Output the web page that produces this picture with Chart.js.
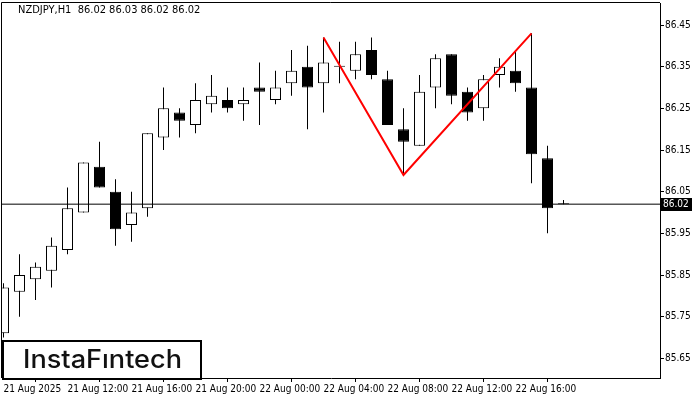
<!DOCTYPE html>
<html>
<head>
<meta charset="utf-8">
<script src="https://cdn.jsdelivr.net/npm/chart.js@4.4.1/dist/chart.umd.min.js"></script>
<style>
    html, body { margin: 0; padding: 0; background: #fff; }
    #wrap { width: 700px; height: 400px; }
</style>
</head>
<body>
<div id="wrap"><canvas id="myChart" width="700" height="400"></canvas></div>
<script>
const symbol = 'NZDJPY,H1';
const lastQuote = [ 86.02, 86.03, 86.02, 86.02 ];

// H1 candles, 21 Aug 08:00 .. 22 Aug 19:00
const opens  = [ 85.71, 85.81, 85.84, 85.86, 85.91, 86.00, 86.11, 86.05, 85.97, 86.01,
                 86.18, 86.24, 86.21, 86.26, 86.27, 86.26, 86.30, 86.27, 86.31, 86.35,
                 86.31, 86.35, 86.34, 86.39, 86.32, 86.20, 86.16, 86.30, 86.38, 86.29,
                 86.25, 86.33, 86.34, 86.30, 86.13, 86.02 ];
const highs  = [ 85.83, 85.90, 85.88, 85.94, 86.06, 86.12, 86.17, 86.08, 86.05, 86.19,
                 86.30, 86.25, 86.31, 86.33, 86.30, 86.30, 86.36, 86.34, 86.39, 86.40,
                 86.42, 86.41, 86.41, 86.42, 86.34, 86.25, 86.33, 86.38, 86.38, 86.30,
                 86.33, 86.37, 86.39, 86.43, 86.16, 86.03 ];
const lows   = [ 85.70, 85.75, 85.79, 85.82, 85.90, 86.00, 86.06, 85.92, 85.93, 85.99,
                 86.15, 86.18, 86.19, 86.24, 86.24, 86.22, 86.21, 86.26, 86.28, 86.20,
                 86.24, 86.31, 86.32, 86.32, 86.21, 86.09, 86.16, 86.25, 86.26, 86.22,
                 86.22, 86.30, 86.29, 86.07, 85.95, 86.02 ];
const closes = [ 85.82, 85.85, 85.87, 85.92, 86.01, 86.12, 86.06, 85.96, 86.00, 86.19,
                 86.25, 86.22, 86.27, 86.28, 86.25, 86.27, 86.29, 86.30, 86.34, 86.30,
                 86.36, 86.35, 86.38, 86.33, 86.21, 86.17, 86.29, 86.37, 86.28, 86.24,
                 86.32, 86.35, 86.31, 86.14, 86.01, 86.02 ];

const timeLabels = [ '21 Aug 2025', '21 Aug 12:00', '21 Aug 16:00', '21 Aug 20:00',
                     '22 Aug 00:00', '22 Aug 04:00', '22 Aug 08:00', '22 Aug 12:00', '22 Aug 16:00' ];
const barsPerLabel = 4;
const priceTicks = [ 85.65, 85.75, 85.85, 85.95, 86.05, 86.15, 86.25, 86.35, 86.45 ];

// double top pattern
const patternBars   = [ 20, 25, 33 ];
const patternPrices = [ 86.42, 86.09, 86.43 ];

const currentPrice = 86.02;

const tickFont = { family: "'DejaVu Sans Condensed', 'DejaVu Sans', sans-serif", size: 10 };


const chartDecor = {
    id: 'chartDecor',
    afterDatasetsDraw( chart ) {
        const { ctx, chartArea: a } = chart;
        ctx.save();

        // logo box
        ctx.fillStyle = '#fff';
        ctx.fillRect( 3, 341, 198, 37 );
        ctx.strokeStyle = '#000';
        ctx.lineWidth = 2;
        ctx.strokeRect( 3, 341, 198, 38 );

        ctx.font = "500 25px Inter, 'Open Sans', sans-serif";
        ctx.fillStyle = '#111';
        ctx.textBaseline = 'alphabetic';
        const logo = 'InstaF\u0131ntech';
        const w = ctx.measureText( logo ).width;
        ctx.translate( 23, 368 );
        ctx.scale( 159 / w, 1 );
        ctx.fillText( logo, 0, 0 );
        ctx.restore();

        ctx.save();
        // frame (top / left)
        ctx.strokeStyle = '#000';
        ctx.lineWidth = 1;
        ctx.beginPath();
        ctx.moveTo( a.left - 0.5, a.bottom );
        ctx.lineTo( a.left - 0.5, a.top - 0.5 );
        ctx.lineTo( a.right, a.top - 0.5 );
        ctx.stroke();

        // header
        ctx.font = "11px 'DejaVu Sans Condensed', 'DejaVu Sans', sans-serif";
        ctx.fillStyle = '#000';
        ctx.textBaseline = 'middle';
        ctx.fillText( symbol + '  ' + lastQuote.map( v => v.toFixed(2) ).join(' '), 18, 10 );
        ctx.restore();
    },
    afterDraw( chart ) {
        const { ctx, chartArea: a } = chart;
        const y = chart.scales.y.getPixelForValue( currentPrice );
        ctx.save();
        ctx.fillStyle = '#000';
        ctx.fillRect( a.right + 1, Math.round( y ) - 6, 31, 13 );
        ctx.fillStyle = '#fff';
        ctx.font = tickFont.size + 'px ' + tickFont.family;
        ctx.textBaseline = 'middle';
        ctx.fillText( currentPrice.toFixed(2), a.right + 3, Math.round( y ) + 0.5 );
        ctx.restore();
    }
};


const idx = closes.map( ( c, i ) => i );

const ctx = document.getElementById('myChart');

new Chart( ctx, {
    data: {
        datasets: [
            {
                type: 'line',
                data: patternBars.map( ( b, i ) => ({ x: b, y: patternPrices[i] }) ),
                borderColor: '#ff0000',
                borderWidth: 2,
                pointRadius: 0,
                tension: 0,
            },
            {
                type: 'line',
                data: [ { x: -5, y: currentPrice }, { x: 50, y: currentPrice } ],
                borderColor: '#000',
                borderWidth: 1,
                pointRadius: 0,
            },
            {
                type: 'bar',
                data: idx.map( i => ({ x: i, y: [ opens[i], closes[i] ] }) ),
                backgroundColor: idx.map( i => closes[i] >= opens[i] ? '#fff' : '#000' ),
                borderColor: '#000',
                borderWidth: 1,
                borderSkipped: false,
                barThickness: 11,
                minBarLength: 1,
                inflateAmount: 0,
            },
            {
                type: 'bar',
                data: idx.map( i => ({ x: i, y: [ lows[i], highs[i] ] }) ),
                backgroundColor: '#000',
                borderWidth: 0,
                barThickness: 1,
                inflateAmount: 0,
            },
        ]
    },
    options: {
        responsive: false,
        animation: false,
        devicePixelRatio: 1,
        grouped: false,
        layout: { padding: { left: 2, top: 3, right: 0, bottom: 0 } },
        plugins: {
            legend: { display: false },
            tooltip: { enabled: false },
        },
        scales: {
            x: {
                type: 'linear',
                offset: false,
                min: -0.09375,
                max: -0.09375 + 658 / 16,
                afterBuildTicks: s => { s.ticks = timeLabels.map( ( l, i ) => ({ value: i * barsPerLabel }) ); },
                afterFit: s => { s.height = 22; s.paddingLeft = 0; s.paddingRight = 0; },
                ticks: {
                    autoSkip: false,
                    maxRotation: 0,
                    align: 'start',
                    padding: 1,
                    color: '#000',
                    font: tickFont,
                    callback: ( v, i ) => timeLabels[i],
                },
                grid: { drawOnChartArea: false, drawTicks: true, tickLength: 4, color: '#000' },
                border: { display: true, color: '#000', width: 1 },
            },
            y: {
                position: 'right',
                min: 86.45 - 353 / 416.67,
                max: 86.45 + 22 / 416.67,
                afterBuildTicks: s => { s.ticks = priceTicks.map( v => ({ value: v }) ); },
                afterFit: s => { s.width = 40; s.paddingTop = 0; s.paddingBottom = 0; },
                ticks: {
                    padding: 1,
                    color: '#000',
                    font: tickFont,
                    callback: v => v.toFixed(2),
                },
                grid: { drawOnChartArea: false, drawTicks: true, tickLength: 4, color: '#000' },
                border: { display: true, color: '#000', width: 1 },
            }
        }
    },
    plugins: [ chartDecor ]
});
</script>
</body>
</html>
